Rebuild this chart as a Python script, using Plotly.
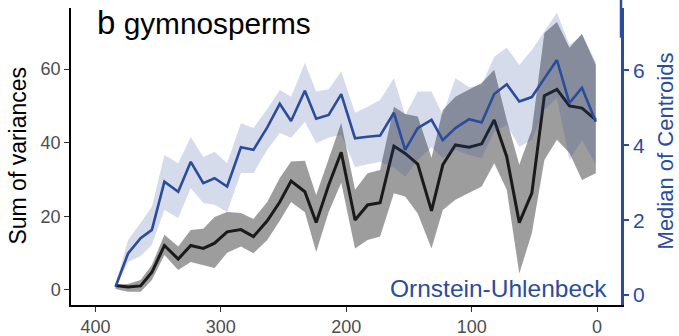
import plotly.graph_objects as go

# Time (Ma) of each bin
age = [384, 374, 364, 355, 345, 334, 324, 314, 305, 295, 284, 274, 263, 253, 244,
       233, 224, 214, 204, 193, 183, 173, 162, 153, 143, 132, 123, 113, 102, 92,
       82, 72, 62, 52, 42, 32, 22, 12, 1]

# Sum of variances (left axis): median and envelope
sumvar = [1.2, 0.8, 1.1, 4.8, 12.1, 8.4, 12.1, 11.3, 12.7, 15.8, 16.4, 14.5, 18.8,
          23.9, 29.6, 26.7, 18.3, 28.5, 37.4, 19.0, 23.1, 23.7, 39.1, 37.1, 34.2,
          21.5, 34.0, 39.4, 38.8, 39.7, 46.2, 36.2, 18.3, 26.3, 52.8, 54.5, 50.0,
          49.4, 46.2]
sumvar_hi = [1.4, 1.6, 2.7, 6.8, 15.0, 11.8, 16.3, 16.6, 19.8, 21.2, 20.9, 19.3,
             23.9, 30.4, 34.9, 35.1, 25.8, 35.6, 45.4, 27.2, 31.7, 32.6, 49.8,
             47.8, 47.1, 35.9, 48.9, 52.5, 54.4, 56.2, 59.8, 46.2, 34.0, 43.5,
             69.8, 72.8, 65.8, 69.6, 61.1]
sumvar_lo = [0.3, -0.5, -0.5, 2.7, 9.5, 5.4, 7.6, 6.8, 6.0, 10.1, 11.8, 10.0, 13.6,
             18.8, 23.9, 21.1, 10.3, 21.2, 29.1, 11.3, 13.6, 14.5, 26.3, 25.4,
             20.8, 11.3, 21.7, 24.5, 26.3, 28.1, 34.4, 27.2, 4.5, 15.4, 35.3,
             40.8, 37.2, 29.9, 31.7]

# Median of centroids (right axis): median and envelope
centroid = [0.22, 1.11, 1.52, 1.74, 3.03, 2.76, 3.56, 2.99, 3.12, 2.90, 3.95, 3.88,
            4.48, 5.11, 4.65, 5.46, 4.71, 4.81, 5.37, 4.19, 4.23, 4.26, 4.87,
            3.88, 4.46, 4.68, 4.14, 4.46, 4.70, 4.61, 5.37, 5.63, 5.17, 5.29,
            5.79, 6.28, 5.13, 5.54, 4.63]
centroid_hi = [0.27, 1.47, 1.93, 2.36, 3.74, 3.52, 4.22, 3.69, 3.83, 3.52, 4.59,
               4.46, 4.97, 5.48, 5.30, 6.20, 5.44, 5.50, 5.97, 4.87, 5.03, 5.21,
               5.79, 4.81, 5.44, 5.44, 4.81, 5.79, 5.55, 5.61, 6.37, 6.61, 6.15,
               6.55, 7.04, 7.55, 6.68, 6.95, 6.23]
centroid_lo = [0.19, 0.88, 1.04, 1.34, 2.27, 2.06, 2.86, 2.46, 2.41, 2.22, 3.26,
               3.26, 3.88, 4.33, 4.20, 4.63, 4.06, 4.20, 4.28, 3.42, 3.48, 3.56,
               3.40, 3.16, 3.61, 3.95, 3.66, 3.88, 3.74, 3.66, 4.36, 4.55, 3.96,
               4.14, 4.95, 5.27, 3.61, 4.14, 3.48]

x_ticks = [400, 300, 200, 100, 0]
left_ticks = [0, 20, 40, 60]
right_ticks = [0, 2, 4, 6]

BLUE = "#2B4C9B"
FONT = "Liberation Sans, Arial, sans-serif"

fig = go.Figure()

# grey envelope for sum of variances
fig.add_trace(go.Scatter(
    x=age + age[::-1], y=sumvar_hi + sumvar_lo[::-1],
    fill="toself", fillcolor="rgba(110,110,110,0.68)",
    line=dict(width=0), mode="lines", hoverinfo="skip", showlegend=False))
fig.add_trace(go.Scatter(
    x=age, y=sumvar, mode="lines", line=dict(color="#1a1a1a", width=3),
    showlegend=False))

# blue envelope for median of centroids
fig.add_trace(go.Scatter(
    x=age + age[::-1], y=centroid_hi + centroid_lo[::-1], yaxis="y2",
    fill="toself", fillcolor="rgba(43,76,155,0.2)",
    line=dict(width=0), mode="lines", hoverinfo="skip", showlegend=False))
fig.add_trace(go.Scatter(
    x=age, y=centroid, yaxis="y2", mode="lines",
    line=dict(color=BLUE, width=2.6), showlegend=False))

fig.update_layout(
    width=679, height=336,
    margin=dict(l=71, r=58, t=8, b=31),
    paper_bgcolor="white", plot_bgcolor="white",
    font=dict(family=FONT),
    xaxis=dict(
        range=[419.5, -19.1], tickvals=x_ticks, showgrid=False, zeroline=False,
        showline=True, linecolor="black", linewidth=1.5, automargin=False,
        ticks="outside", ticklen=5, tickcolor="#333", tickwidth=1.2,
        tickfont=dict(size=18, color="#4d4d4d", family=FONT)),
    yaxis=dict(
        range=[-4.08, 76.6], tickvals=left_ticks, showgrid=False, zeroline=False,
        showline=True, linecolor="black", linewidth=1.5, automargin=False,
        ticks="outside", ticklen=5, tickcolor="#333", tickwidth=1.2,
        tickfont=dict(size=18, color="#4d4d4d", family=FONT)),
    yaxis2=dict(
        range=[-0.267, 7.67], tickvals=right_ticks, overlaying="y", side="right",
        showgrid=False, zeroline=False, showline=True, linecolor=BLUE,
        linewidth=2.5, ticks="outside", ticklen=5, tickcolor=BLUE, tickwidth=2,
        automargin=False, tickfont=dict(size=21, color=BLUE, family=FONT)),
)

fig.add_annotation(
    text="<span style='font-size:33px'>b</span> gymnosperms",
    xref="paper", yref="paper", x=0.043, y=0.95, xanchor="left", yanchor="middle",
    showarrow=False, font=dict(size=29.8, color="black", family=FONT))
fig.add_annotation(
    text="Sum of variances", textangle=-90,
    xref="paper", yref="paper", x=-0.0964, y=0.503, xanchor="center", yanchor="middle",
    showarrow=False, font=dict(size=23, color="black", family=FONT))
fig.add_annotation(
    text="Median of Centroids", textangle=-90,
    xref="paper", yref="paper", x=1.08, y=0.517, xanchor="center", yanchor="middle",
    showarrow=False, font=dict(size=22, color=BLUE, family=FONT))
fig.add_annotation(
    text="Ornstein-Uhlenbeck",
    xref="paper", yref="paper", x=0.978, y=0.057, xanchor="right", yanchor="middle",
    showarrow=False, font=dict(size=24.5, color=BLUE, family=FONT))

# right axis line continues to the top edge
fig.add_shape(type="line", xref="paper", yref="paper", x0=1, x1=1, y0=0.9, y1=1.03,
              line=dict(color=BLUE, width=2.5))

fig.write_html("out.html")
